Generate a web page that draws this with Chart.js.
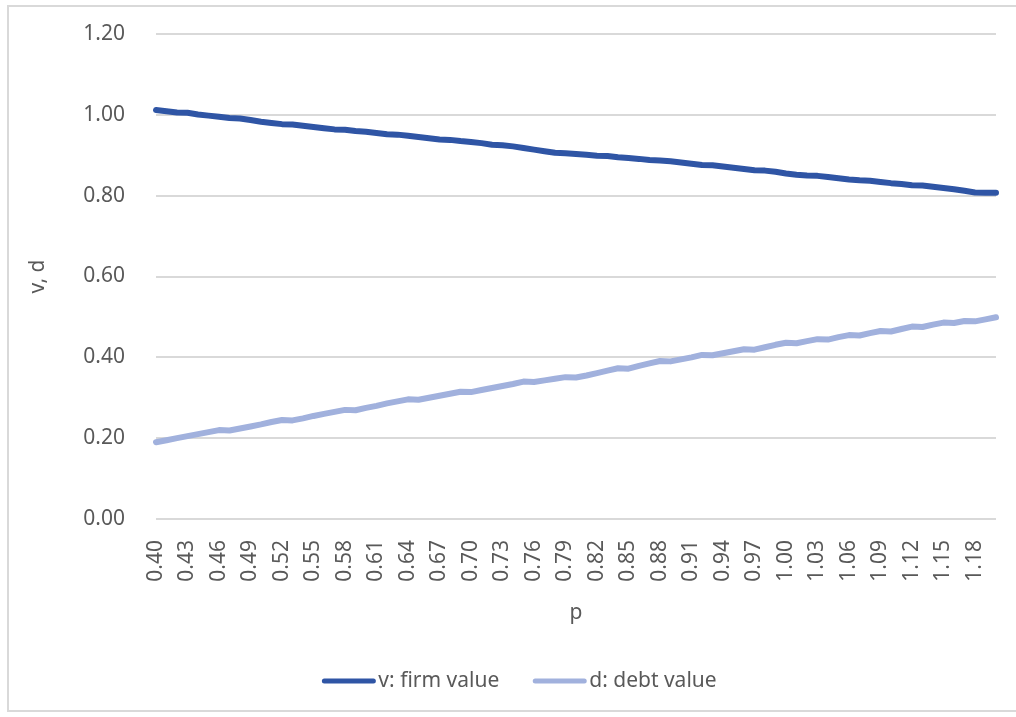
<!DOCTYPE html>
<html>
<head>
<meta charset="utf-8">
<title>Firm value and debt value against p</title>
<script src="https://cdn.jsdelivr.net/npm/chart.js@4.4.1/dist/chart.umd.min.js"></script>
<style>
  html, body { margin: 0; padding: 0; background: #fff; overflow: hidden; }
  #wrap { position: relative; width: 1016px; height: 717px; }
  #frame { position: absolute; left: 7px; top: 5px; width: 1020px; height: 703px;
           border: 2px solid #d9d9d9; border-right: none; }
  #chart { position: absolute; left: 0; top: 0; }
</style>
</head>
<body>
<div id="wrap">
  <div id="frame"></div>
  <canvas id="chart" width="1016" height="717"></canvas>
</div>
<script>
// p from 0.40 to 1.20
var pValues = [
  '0.40','0.41','0.42','0.43','0.44','0.45','0.46','0.47','0.48','0.49',
  '0.50','0.51','0.52','0.53','0.54','0.55','0.56','0.57','0.58','0.59',
  '0.60','0.61','0.62','0.63','0.64','0.65','0.66','0.67','0.68','0.69',
  '0.70','0.71','0.72','0.73','0.74','0.75','0.76','0.77','0.78','0.79',
  '0.80','0.81','0.82','0.83','0.84','0.85','0.86','0.87','0.88','0.89',
  '0.90','0.91','0.92','0.93','0.94','0.95','0.96','0.97','0.98','0.99',
  '1.00','1.01','1.02','1.03','1.04','1.05','1.06','1.07','1.08','1.09',
  '1.10','1.11','1.12','1.13','1.14','1.15','1.16','1.17','1.18','1.19',
  '1.20'
];

// v: firm value
var firmValue = [
  1.012, 1.009, 1.006, 1.005, 1.001, 0.998, 0.995, 0.992, 0.991, 0.987,
  0.983, 0.980, 0.977, 0.976, 0.973, 0.970, 0.967, 0.964, 0.963, 0.960,
  0.958, 0.955, 0.952, 0.951, 0.948, 0.945, 0.942, 0.939, 0.938, 0.935,
  0.933, 0.930, 0.926, 0.925, 0.922, 0.918, 0.914, 0.910, 0.906, 0.905,
  0.903, 0.901, 0.899, 0.898, 0.895, 0.893, 0.891, 0.888, 0.887, 0.885,
  0.882, 0.879, 0.876, 0.875, 0.872, 0.869, 0.866, 0.863, 0.862, 0.859,
  0.855, 0.852, 0.850, 0.849, 0.846, 0.843, 0.840, 0.838, 0.837, 0.834,
  0.831, 0.829, 0.826, 0.825, 0.822, 0.819, 0.816, 0.812, 0.808, 0.807,
  0.807
];

// d: debt value
var debtValue = [
  0.190, 0.195, 0.200, 0.205, 0.210, 0.215, 0.220, 0.219, 0.224, 0.229,
  0.234, 0.240, 0.245, 0.244, 0.249, 0.255, 0.260, 0.265, 0.270, 0.269,
  0.275, 0.280, 0.286, 0.291, 0.296, 0.295, 0.300, 0.305, 0.310, 0.315,
  0.314, 0.319, 0.324, 0.329, 0.334, 0.340, 0.339, 0.343, 0.347, 0.351,
  0.350, 0.355, 0.361, 0.367, 0.373, 0.372, 0.379, 0.385, 0.391, 0.390,
  0.395, 0.400, 0.406, 0.405, 0.410, 0.415, 0.420, 0.419, 0.425, 0.431,
  0.436, 0.435, 0.440, 0.445, 0.444, 0.450, 0.455, 0.454, 0.460, 0.465,
  0.464, 0.470, 0.476, 0.475, 0.481, 0.486, 0.485, 0.490, 0.489, 0.494,
  0.499
];

var yMin = 0, yMax = 1.2, yStep = 0.2;
var labelEvery = 3;

var textColor = '#595959';
var gridColor = '#d9d9d9';
var fontFamily = "'Noto Sans', 'DejaVu Sans', sans-serif";

Chart.defaults.font.family = fontFamily;
Chart.defaults.font.size = 21;
Chart.defaults.color = textColor;

// legend drawn as a thick line swatch followed directly by the label
var lineLegend = {
  id: 'lineLegend',
  afterDraw: function(chart) {
    var ctx = chart.ctx;
    var sets = chart.data.datasets;
    var swatch = 55, gap = 2, spacing = 33;
    ctx.save();
    ctx.font = '21px ' + fontFamily;
    var widths = sets.map(function(ds){ return swatch + gap + ctx.measureText(ds.label).width; });
    var total = widths.reduce(function(a, b){ return a + b; }, 0) + spacing * (sets.length - 1);
    var x = 519 - total / 2;
    var y = chart.height - 36;
    sets.forEach(function(ds, i){
      ctx.strokeStyle = ds.borderColor;
      ctx.lineWidth = 5;
      ctx.lineCap = 'round';
      ctx.beginPath();
      ctx.moveTo(x + 3, y);
      ctx.lineTo(x + swatch - 3, y);
      ctx.stroke();
      ctx.fillStyle = textColor;
      ctx.textBaseline = 'middle';
      ctx.textAlign = 'left';
      ctx.fillText(ds.label, x + swatch + gap, y);
      x += widths[i] + spacing;
    });
    ctx.restore();
  }
};

var chart = new Chart(document.getElementById('chart'), {
  type: 'line',
  data: {
    labels: pValues,
    datasets: [
      {
        label: 'v: firm value',
        data: firmValue,
        borderColor: '#2f55a5',
        backgroundColor: '#2f55a5'
      },
      {
        label: 'd: debt value',
        data: debtValue,
        borderColor: '#a1b1dd',
        backgroundColor: '#a1b1dd'
      }
    ]
  },
  options: {
    responsive: false,
    animation: false,
    layout: { padding: { left: 8, right: 20, top: 34, bottom: 88 } },
    elements: {
      line: { borderWidth: 6, tension: 0, borderCapStyle: 'round', borderJoinStyle: 'round' },
      point: { radius: 0, hoverRadius: 0 }
    },
    plugins: {
      legend: { display: false },
      tooltip: { enabled: false }
    },
    scales: {
      x: {
        offset: false,
        grid: { display: false, drawTicks: false },
        border: { display: false },
        ticks: {
          autoSkip: false,
          maxRotation: 90,
          minRotation: 90,
          padding: 21,
          callback: function(v, i){ return i % labelEvery === 0 ? pValues[i] : ''; }
        },
        title: { display: true, text: 'p', padding: { top: 0, bottom: 3 } },
        afterFit: function(s){
          s.height = 110;
          s.paddingLeft = 0;
          s.paddingRight = 0;
        }
      },
      y: {
        min: yMin,
        max: yMax,
        grid: { color: gridColor, lineWidth: 2, drawTicks: false },
        border: { display: false },
        ticks: {
          stepSize: yStep,
          padding: 31,
          callback: function(v){ return v.toFixed(2); }
        },
        title: { display: true, text: 'v, d', padding: { top: 17, bottom: 0 } },
        afterFit: function(s){
          s.width = 148;
          s.paddingTop = 0;
          s.paddingBottom = 0;
        }
      }
    }
  },
  plugins: [lineLegend]
});
</script>
</body>
</html>
